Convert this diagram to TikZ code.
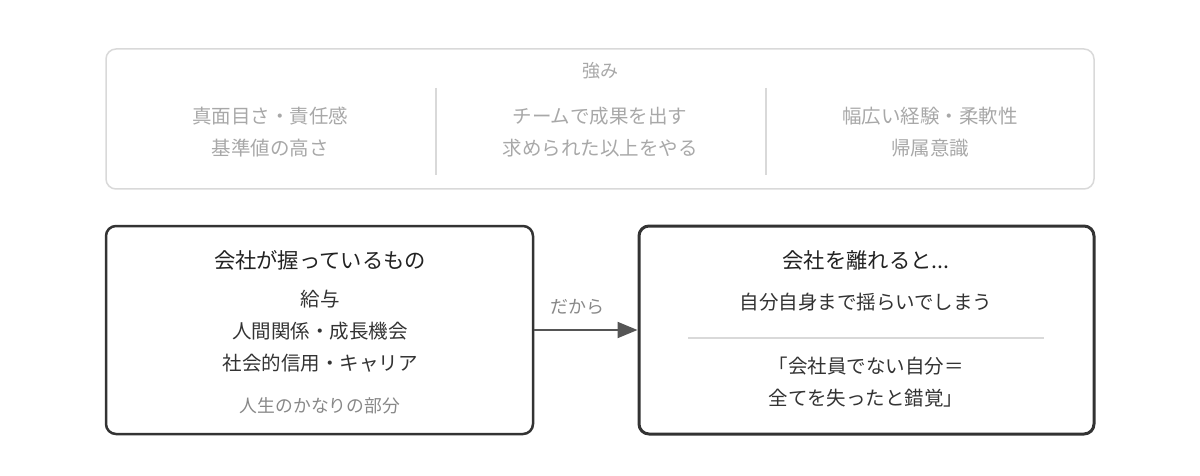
\documentclass[tikz,border=0pt]{standalone}
\usepackage{fontspec}
\setmainfont{Noto Sans CJK JP}
\usetikzlibrary{arrows.meta}
\definecolor{lightframe}{HTML}{D9D9D9}
\definecolor{lighttext}{HTML}{A8A8A8}
\definecolor{darkframe}{HTML}{333333}
\definecolor{maintext}{HTML}{222222}
\definecolor{subtext}{HTML}{333333}
\definecolor{notetext}{HTML}{888888}
\definecolor{arrowcol}{HTML}{555555}
\tikzset{
  strengthtxt/.style={text=lighttext, font=\fontsize{19.5}{32}\selectfont, align=center, inner sep=0pt},
  titletxt/.style={text=maintext, font=\fontsize{21.3}{24}\selectfont, inner sep=0pt},
  bodytxt/.style={text=subtext, font=\fontsize{19.5}{32}\selectfont, align=center, inner sep=0pt},
  frameboxstyle/.style={draw=darkframe, rounded corners=10pt, inner sep=0pt},
}
\begin{document}
\begin{tikzpicture}[x=1pt,y=-1pt]
\useasboundingbox (0,0) rectangle (1200,476);
% top box
\draw[lightframe, line width=1.5pt, rounded corners=10pt] (106,49) rectangle (1094,189);
\node[text=lighttext, font=\fontsize{18}{20}\selectfont, inner sep=0pt] (strong) at (600,71) {強み};
\draw[lightframe, line width=1.3pt] (436,88) -- (436,175);
\draw[lightframe, line width=1.3pt] (766,88) -- (766,175);
\node[strengthtxt] (s1) at (270,132) {真面目さ・責任感\\基準値の高さ};
\node[strengthtxt] (s2) at (600,132) {チームで成果を出す\\求められた以上をやる};
\node[strengthtxt] (s3) at (930,132) {幅広い経験・柔軟性\\帰属意識};
% left box
\node[frameboxstyle, line width=2.5pt, minimum width=427pt, minimum height=208pt] (left) at (319.5,330) {};
\node[titletxt] (lt) at (320,260) {会社が握っているもの};
\node[bodytxt] (lb) at (320,331) {給与\\人間関係・成長機会\\社会的信用・キャリア};
\node[text=notetext, font=\fontsize{17.8}{20}\selectfont, inner sep=0pt] (ln) at (320,406) {人生のかなりの部分};
% right box
\node[frameboxstyle, line width=3pt, minimum width=455pt, minimum height=208pt] (right) at (866.5,330) {};
\node[titletxt] (rt) at (866,260) {会社を離れると...};
\node[bodytxt] (rb) at (866,302) {自分自身まで揺らいでしまう};
\coordinate (dl) at (688,338);
\coordinate (dr) at (1044,338);
\draw[lightframe, line width=1.3pt] (dl) -- (dr);
\node[bodytxt] (rq) at (866,382) {「会社員でない自分＝\\全てを失ったと錯覚」};
% arrow
\draw[arrowcol, line width=2pt, -{Triangle[length=20pt,width=16pt]}] (left.east) -- (right.west);
\node[text=notetext, font=\fontsize{18}{20}\selectfont, inner sep=0pt] (why) at (577,307) {だから};
\end{tikzpicture}
\end{document}
